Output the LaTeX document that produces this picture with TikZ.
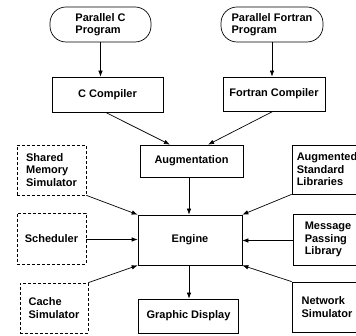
\documentclass[tikz,border=0pt]{standalone}
\usepackage{fontspec}
\setmainfont{Liberation Sans}
\usetikzlibrary{arrows.meta}
\tikzset{
  box/.style={draw, line width=0.7pt, align=left, inner sep=0pt,
    font=\bfseries\fontsize{11}{12.5}\selectfont},
  solidbox/.style={box},
  dashbox/.style={box, dash pattern=on 3pt off 2pt},
  pill/.style={box, rounded corners=16pt},
  flow/.style={draw, line width=0.7pt, -{Latex[length=6pt,width=4.5pt]}}
}
\begin{document}
\begin{tikzpicture}[x=1pt, y=-1pt]
  \clip (0,0) rectangle (356,336);
  \fill[white] (0,0) rectangle (356,336);

  % sources and compilers
  \node[pill, minimum width=101pt, minimum height=35pt] (pc) at (100.5,24.5) {Parallel C\\Program};
  \node[pill, minimum width=102pt, minimum height=35pt] (pf) at (272,24.5) {Parallel Fortran\\Program};
  \node[solidbox, minimum width=111pt, minimum height=35pt] (cc) at (107.5,94.5) {C Compiler};
  \node[solidbox, minimum width=102pt, minimum height=34pt] (fc) at (274,94) {Fortran Compiler};

  % core
  \node[solidbox, minimum width=103pt, minimum height=32pt] (aug) at (191.5,161) {Augmentation};
  \node[solidbox, minimum width=104pt, minimum height=50pt] (eng) at (190,240) {Engine};
  \node[solidbox, minimum width=100pt, minimum height=34pt] (gd) at (188.5,316) {Graphic Display};

  % left-hand simulators
  \node[dashbox, minimum width=69pt, minimum height=50pt] (sm) at (51.5,170) {Shared\\Memory\\Simulator};
  \node[dashbox, minimum width=69pt, minimum height=51pt] (sch) at (51.5,238.5) {Scheduler};
  \node[dashbox, minimum width=68pt, minimum height=50pt] (cs) at (54,308) {Cache\\Simulator};

  % right-hand libraries
  \node[solidbox, minimum width=70pt, minimum height=49pt] (asl) at (327,169.5) {Augmented\\Standard\\Libraries};
  \node[solidbox, minimum width=70pt, minimum height=51pt] (mpl) at (328,239.5) {Message\\Passing\\Library};
  \node[solidbox, minimum width=70pt, minimum height=50pt] (ns) at (327,307) {Network\\Simulator};

  % connectors
  \draw[flow] (pc.south) -- (pc.south |- cc.north);
  \draw[flow] (pf.south) -- (pf.south |- fc.north);
  \draw[flow] ([xshift=-2pt]cc.south) -- ([xshift=-21.5pt]aug.north);
  \draw[flow] ([xshift=-1pt]fc.south) -- ([xshift=16.5pt]aug.north);
  \draw[flow] ([xshift=-1pt]eng.north |- aug.south) -- ([xshift=-1pt]eng.north);
  \draw[flow] (sm.south east) -- (eng.north west);
  \draw[flow] ([yshift=-1pt]sch.east) -- ([yshift=-1pt]sch.east -| eng.west);
  \draw[flow] (cs.north east) -- (eng.south west);
  \draw[flow] (asl.south west) -- (eng.north east);
  \draw[flow] ([yshift=-1pt]mpl.west) -- ([yshift=-1pt]mpl.west -| eng.east);
  \draw[flow] (ns.north west) -- (eng.south east);
  \draw[flow] ([xshift=-1pt]eng.south) -- ([xshift=-1pt]eng.south |- gd.north);
\end{tikzpicture}
\end{document}
